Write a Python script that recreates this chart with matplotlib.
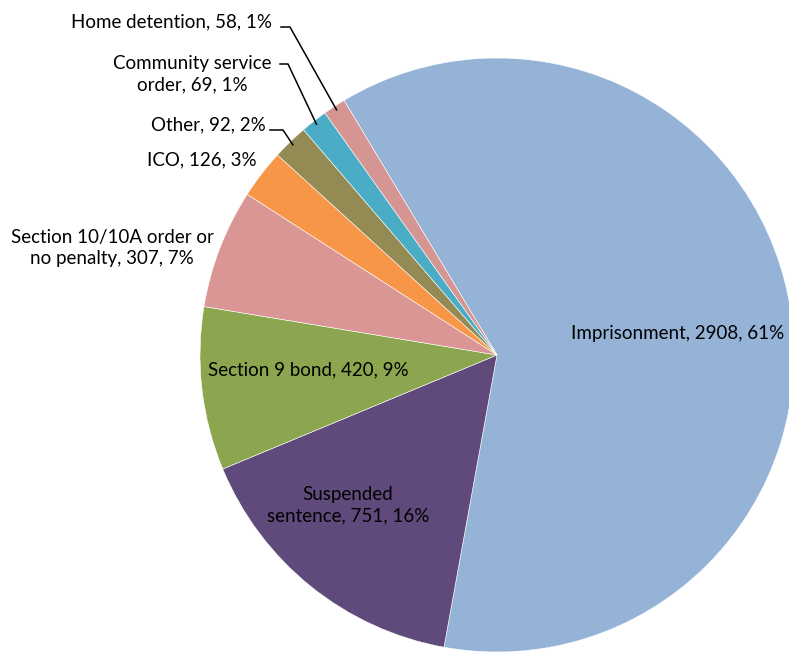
import numpy as np
import matplotlib
matplotlib.use("Agg")
import matplotlib.pyplot as plt

# ─── Daten ────────────────────────────────────────────────────────────────────
kategorien = ["Imprisonment", "Suspended sentence", "Section 9 bond",
              "Section 10/10A order or no penalty", "ICO", "Other",
              "Community service order", "Home detention"]
werte = [2908, 751, 420, 307, 126, 92, 69, 58]
prozent = [61, 16, 9, 7, 3, 2, 1, 1]
beschriftung = ["Imprisonment, 2908, 61%",
                "Suspended\nsentence, 751, 16%",
                "Section 9 bond, 420, 9%",
                "Section 10/10A order or\nno penalty, 307, 7%",
                "ICO, 126, 3%",
                "Other, 92, 2%",
                "Community service\norder, 69, 1%",
                "Home detention, 58, 1%"]
farben = ["#95B3D7", "#604A7B", "#8CA64F", "#D99694",
          "#F79646", "#948A54", "#4BACC6", "#D49593"]

# ─── Layout (Pixelkoordinaten, y nach oben) ───────────────────────────────────
W, H = 789, 652
CX, CY, R = 497, H - 355, 297
START = 121

plt.rcParams["font.family"] = ["Lato", "DejaVu Sans"]

fig = plt.figure(figsize=(W / 100, H / 100), dpi=100)
ax = fig.add_axes([0, 0, 1, 1])
wedges, _ = ax.pie(werte, colors=farben, startangle=START, counterclock=False,
                   center=(CX, CY), radius=R, frame=True,
                   wedgeprops=dict(edgecolor="white", linewidth=0.4))
ax.set_xlim(0, W)
ax.set_ylim(0, H)
ax.set_aspect("equal")
ax.axis("off")

# Label-Positionen (Mitte der Textbox)
pos = [(678, 333), (348, 505), (308, 370), (112, 248),
       (202, 160), (208, 125), (192, 74), (172, 22)]
fs = 13.5
for i, (txt, (x, y)) in enumerate(zip(beschriftung, pos)):
    ax.text(x, H - y, txt, ha="center", va="center", fontsize=fs,
            color="black", linespacing=1.3)

# Führungslinien für die kleinen Segmente
fuehrung = {5: (270, 130, 283), 6: (280, 64, 288), 7: (281, 27, 290)}
for i, (x0, y0, x1) in fuehrung.items():
    w = wedges[i]
    mid = np.deg2rad((w.theta1 + w.theta2) / 2)
    ex = CX + (R - 4) * np.cos(mid)
    ey = CY + (R - 4) * np.sin(mid)
    ax.plot([x0, x1, ex], [H - y0, H - y0, ey], color="black", lw=1.1)

fig.savefig("out.png", dpi=100)
